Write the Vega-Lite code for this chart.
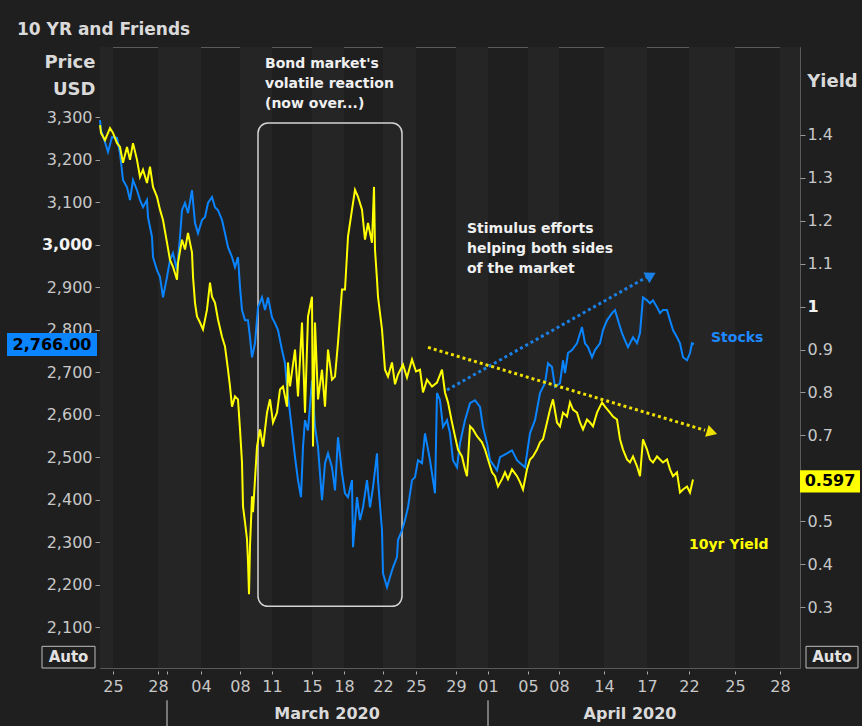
{
"$schema":"https://vega.github.io/schema/vega-lite/v6.json",
"width":700,"height":621,
"autosize":{"type":"none"},
"padding":{"left":100,"top":47,"right":62,"bottom":58},
"background":"#1f1f1f",
"title":{"text":"10 YR and Friends","anchor":"start","frame":"group","dx":-83,"offset":8,"fontSize":17,"fontWeight":"bold","color":"#dadada","font":"DejaVu Sans"},
"config":{"font":"DejaVu Sans","view":{"stroke":"#5a5a5a","fill":"#1f1f1f"},"axis":{"labelFont":"DejaVu Sans","titleFont":"DejaVu Sans"}},
"datasets":{
"bands":[{"start":0,"end":2.6},{"start":11.6,"end":20.2},{"start":28,"end":34.4},{"start":42.4,"end":48.8},{"start":56.6,"end":63.2},{"start":71.2,"end":77.6},{"start":85.6,"end":91.8},{"start":100.8,"end":109.4},{"start":117.8,"end":127},{"start":136,"end":140}],
"months":[{"t":13.4},{"t":77.6}],
"stocks":[{"t":0,"price":3293},{"t":0.2,"price":3269},{"t":1,"price":3241},{"t":1.6,"price":3218},{"t":2.4,"price":3253},{"t":3.4,"price":3251},{"t":4,"price":3215},{"t":4.6,"price":3152},{"t":5.4,"price":3135},{"t":6,"price":3105},{"t":6.6,"price":3152},{"t":7.4,"price":3128},{"t":8,"price":3105},{"t":8.6,"price":3088},{"t":9.4,"price":3105},{"t":9.6,"price":3065},{"t":10.4,"price":3018},{"t":10.6,"price":2971},{"t":11.4,"price":2940},{"t":12,"price":2924},{"t":12.6,"price":2876},{"t":13.4,"price":2924},{"t":14,"price":2964},{"t":14.6,"price":2980},{"t":15.4,"price":2940},{"t":16,"price":3018},{"t":16.4,"price":3081},{"t":17,"price":3098},{"t":17.6,"price":3074},{"t":18.4,"price":3128},{"t":19,"price":3051},{"t":19.6,"price":3027},{"t":20.4,"price":3058},{"t":21,"price":3065},{"t":21.6,"price":3098},{"t":22.4,"price":3112},{"t":23,"price":3088},{"t":23.6,"price":3081},{"t":24.4,"price":3058},{"t":25,"price":3027},{"t":25.6,"price":2994},{"t":26.4,"price":2971},{"t":27,"price":2947},{"t":27.6,"price":2971},{"t":28,"price":2900},{"t":28.4,"price":2846},{"t":29,"price":2822},{"t":29.6,"price":2822},{"t":30,"price":2782},{"t":30.4,"price":2735},{"t":31,"price":2768},{"t":31.6,"price":2853},{"t":32.4,"price":2876},{"t":33,"price":2846},{"t":33.6,"price":2876},{"t":34.4,"price":2829},{"t":35,"price":2815},{"t":35.6,"price":2799},{"t":36.4,"price":2752},{"t":37,"price":2721},{"t":37.4,"price":2665},{"t":38.4,"price":2563},{"t":39,"price":2500},{"t":39.6,"price":2446},{"t":40.2,"price":2406},{"t":40.6,"price":2524},{"t":41,"price":2587},{"t":41.6,"price":2563},{"t":42.4,"price":2681},{"t":43,"price":2571},{"t":43.6,"price":2524},{"t":44.4,"price":2399},{"t":45,"price":2486},{"t":45.6,"price":2509},{"t":46.4,"price":2476},{"t":47,"price":2422},{"t":47.6,"price":2547},{"t":48.4,"price":2462},{"t":49,"price":2415},{"t":49.6,"price":2406},{"t":50.4,"price":2446},{"t":50.6,"price":2288},{"t":51.4,"price":2406},{"t":52,"price":2352},{"t":52.6,"price":2382},{"t":53.4,"price":2446},{"t":54,"price":2382},{"t":54.6,"price":2429},{"t":55.4,"price":2509},{"t":55.6,"price":2446},{"t":56.4,"price":2328},{"t":56.6,"price":2227},{"t":57.4,"price":2194},{"t":58,"price":2218},{"t":58.6,"price":2241},{"t":59.4,"price":2265},{"t":59.6,"price":2305},{"t":60.4,"price":2328},{"t":61,"price":2352},{"t":61.6,"price":2382},{"t":62.4,"price":2446},{"t":63,"price":2453},{"t":63.6,"price":2493},{"t":64.4,"price":2486},{"t":65,"price":2556},{"t":66,"price":2493},{"t":67,"price":2415},{"t":67.4,"price":2651},{"t":68,"price":2634},{"t":68.6,"price":2571},{"t":69.4,"price":2587},{"t":70,"price":2556},{"t":70.6,"price":2493},{"t":71.4,"price":2476},{"t":72,"price":2533},{"t":73,"price":2587},{"t":74,"price":2627},{"t":75,"price":2634},{"t":76,"price":2618},{"t":76.6,"price":2571},{"t":77.4,"price":2533},{"t":78,"price":2493},{"t":79.4,"price":2469},{"t":80,"price":2500},{"t":81.4,"price":2509},{"t":82.4,"price":2516},{"t":83.4,"price":2493},{"t":84,"price":2486},{"t":85,"price":2476},{"t":86,"price":2556},{"t":87,"price":2587},{"t":88,"price":2651},{"t":89,"price":2674},{"t":89.6,"price":2721},{"t":90.4,"price":2712},{"t":91,"price":2665},{"t":92,"price":2674},{"t":92.6,"price":2728},{"t":93,"price":2698},{"t":93.6,"price":2745},{"t":94.4,"price":2752},{"t":95.4,"price":2768},{"t":96.4,"price":2806},{"t":97,"price":2768},{"t":97.6,"price":2759},{"t":98.4,"price":2735},{"t":99,"price":2752},{"t":100,"price":2768},{"t":100.6,"price":2799},{"t":101.4,"price":2822},{"t":102.4,"price":2839},{"t":103,"price":2846},{"t":103.6,"price":2822},{"t":104.4,"price":2792},{"t":105,"price":2775},{"t":105.6,"price":2759},{"t":106.6,"price":2782},{"t":107.4,"price":2768},{"t":108,"price":2792},{"t":108.6,"price":2876},{"t":109.4,"price":2869},{"t":110,"price":2862},{"t":110.6,"price":2869},{"t":111.4,"price":2853},{"t":112,"price":2839},{"t":112.6,"price":2846},{"t":113.4,"price":2846},{"t":114,"price":2822},{"t":114.6,"price":2799},{"t":115.4,"price":2782},{"t":116,"price":2768},{"t":116.6,"price":2735},{"t":117.4,"price":2728},{"t":118,"price":2745},{"t":118.4,"price":2768},{"t":118.8,"price":2766}],
"yield":[{"t":0,"yield":1.423},{"t":0.2,"yield":1.405},{"t":1,"yield":1.388},{"t":2,"yield":1.416},{"t":2.6,"yield":1.405},{"t":3.4,"yield":1.381},{"t":4,"yield":1.372},{"t":4.6,"yield":1.335},{"t":5.4,"yield":1.372},{"t":6,"yield":1.342},{"t":6.6,"yield":1.381},{"t":7.4,"yield":1.342},{"t":8,"yield":1.302},{"t":8.6,"yield":1.319},{"t":9.4,"yield":1.288},{"t":10,"yield":1.326},{"t":10.6,"yield":1.279},{"t":11.4,"yield":1.256},{"t":12,"yield":1.226},{"t":12.6,"yield":1.202},{"t":13.4,"yield":1.149},{"t":14,"yield":1.109},{"t":14.6,"yield":1.093},{"t":15.4,"yield":1.063},{"t":15.6,"yield":1.102},{"t":16.4,"yield":1.156},{"t":17,"yield":1.133},{"t":17.6,"yield":1.172},{"t":18.4,"yield":1.126},{"t":18.6,"yield":1.07},{"t":19,"yield":1.009},{"t":19.4,"yield":0.977},{"t":20,"yield":0.963},{"t":20.6,"yield":0.947},{"t":21.4,"yield":0.993},{"t":22,"yield":1.056},{"t":22.4,"yield":1.023},{"t":23,"yield":1.009},{"t":23.6,"yield":0.97},{"t":24.4,"yield":0.93},{"t":25,"yield":0.907},{"t":25.6,"yield":0.853},{"t":26,"yield":0.814},{"t":26.4,"yield":0.767},{"t":27,"yield":0.791},{"t":27.6,"yield":0.784},{"t":28,"yield":0.714},{"t":28.4,"yield":0.637},{"t":28.6,"yield":0.535},{"t":29,"yield":0.498},{"t":29.4,"yield":0.458},{"t":29.6,"yield":0.405},{"t":29.8,"yield":0.33},{"t":30,"yield":0.442},{"t":30.4,"yield":0.558},{"t":30.6,"yield":0.521},{"t":31.4,"yield":0.674},{"t":32,"yield":0.714},{"t":32.6,"yield":0.674},{"t":33.4,"yield":0.753},{"t":34,"yield":0.784},{"t":34.6,"yield":0.73},{"t":35.4,"yield":0.753},{"t":36,"yield":0.807},{"t":36.6,"yield":0.814},{"t":37.4,"yield":0.767},{"t":37.6,"yield":0.87},{"t":38,"yield":0.814},{"t":39,"yield":0.9},{"t":39.6,"yield":0.791},{"t":40.4,"yield":0.963},{"t":41,"yield":0.753},{"t":41.6,"yield":0.977},{"t":42.4,"yield":1.023},{"t":42.6,"yield":0.674},{"t":43,"yield":0.963},{"t":43.6,"yield":0.784},{"t":44.4,"yield":0.853},{"t":45,"yield":0.767},{"t":45.6,"yield":0.9},{"t":46.4,"yield":0.83},{"t":47,"yield":0.837},{"t":47.6,"yield":0.916},{"t":48.4,"yield":1.04},{"t":49,"yield":1.04},{"t":49.6,"yield":1.163},{"t":50.4,"yield":1.226},{"t":51,"yield":1.272},{"t":51.6,"yield":1.256},{"t":52.4,"yield":1.226},{"t":53,"yield":1.156},{"t":53.6,"yield":1.195},{"t":54.4,"yield":1.149},{"t":54.8,"yield":1.279},{"t":55,"yield":1.133},{"t":55.4,"yield":1.063},{"t":55.6,"yield":1.023},{"t":56.4,"yield":0.947},{"t":57,"yield":0.853},{"t":57.6,"yield":0.837},{"t":58.4,"yield":0.87},{"t":59,"yield":0.819},{"t":59.6,"yield":0.842},{"t":60.6,"yield":0.865},{"t":61.4,"yield":0.835},{"t":62.4,"yield":0.877},{"t":63.2,"yield":0.849},{"t":64,"yield":0.853},{"t":64.6,"yield":0.8},{"t":65.4,"yield":0.83},{"t":66.4,"yield":0.814},{"t":67.4,"yield":0.823},{"t":68.4,"yield":0.853},{"t":69,"yield":0.8},{"t":69.6,"yield":0.777},{"t":70.4,"yield":0.73},{"t":71,"yield":0.698},{"t":71.6,"yield":0.667},{"t":72.4,"yield":0.651},{"t":73,"yield":0.621},{"t":73.4,"yield":0.605},{"t":74,"yield":0.721},{"t":74.6,"yield":0.714},{"t":75.4,"yield":0.698},{"t":76.4,"yield":0.684},{"t":77,"yield":0.667},{"t":77.6,"yield":0.644},{"t":78.4,"yield":0.614},{"t":79,"yield":0.605},{"t":79.6,"yield":0.581},{"t":80.4,"yield":0.598},{"t":81,"yield":0.614},{"t":81.6,"yield":0.598},{"t":82.4,"yield":0.621},{"t":83.4,"yield":0.605},{"t":84,"yield":0.591},{"t":84.6,"yield":0.574},{"t":85.4,"yield":0.621},{"t":86,"yield":0.644},{"t":86.6,"yield":0.651},{"t":87.4,"yield":0.667},{"t":88,"yield":0.684},{"t":88.6,"yield":0.691},{"t":89.4,"yield":0.73},{"t":90,"yield":0.76},{"t":90.6,"yield":0.784},{"t":91.4,"yield":0.73},{"t":92,"yield":0.721},{"t":92.6,"yield":0.753},{"t":93.4,"yield":0.744},{"t":94,"yield":0.777},{"t":94.6,"yield":0.76},{"t":95.4,"yield":0.753},{"t":96,"yield":0.73},{"t":96.6,"yield":0.714},{"t":97.4,"yield":0.737},{"t":98,"yield":0.73},{"t":98.6,"yield":0.721},{"t":99.4,"yield":0.753},{"t":100.4,"yield":0.777},{"t":101,"yield":0.767},{"t":102,"yield":0.753},{"t":102.6,"yield":0.744},{"t":103.4,"yield":0.737},{"t":104,"yield":0.691},{"t":104.6,"yield":0.667},{"t":105.4,"yield":0.644},{"t":106,"yield":0.637},{"t":106.6,"yield":0.651},{"t":107.4,"yield":0.628},{"t":108,"yield":0.605},{"t":108.6,"yield":0.691},{"t":109.4,"yield":0.667},{"t":110,"yield":0.644},{"t":110.6,"yield":0.637},{"t":111.4,"yield":0.651},{"t":112,"yield":0.644},{"t":112.6,"yield":0.637},{"t":113.4,"yield":0.644},{"t":114,"yield":0.621},{"t":114.6,"yield":0.605},{"t":115.4,"yield":0.614},{"t":116,"yield":0.567},{"t":116.6,"yield":0.574},{"t":117.4,"yield":0.581},{"t":118,"yield":0.567},{"t":118.6,"yield":0.597}]
},
"resolve":{"scale":{"y":"independent"},"axis":{"x":"independent"}},
"layer":[
{"data":{"name":"bands"},"mark":{"type":"rect","color":"#252525"},
 "encoding":{"x":{"field":"start","type":"quantitative","scale":{"domain":[0,140],"nice":false,"zero":false},"axis":null},"x2":{"field":"end"}}},
{"data":{"values":[{}]},"mark":{"type":"rect","filled":false,"stroke":"#d4d4d4","strokeWidth":1.5,"cornerRadius":10},
 "encoding":{"x":{"datum":31.6,"type":"quantitative","scale":{"domain":[0,140],"nice":false,"zero":false},"axis":null},"x2":{"datum":60.4},
 "y":{"datum":3286,"type":"quantitative","scale":{"domain":[2004,3465],"nice":false,"zero":false},"axis":null},"y2":{"datum":2149}}},
{"data":{"name":"stocks"},"mark":{"type":"line","color":"#0a84ff","strokeWidth":2},
 "encoding":{
  "x":{"field":"t","type":"quantitative","scale":{"domain":[0,140],"nice":false,"zero":false},
   "axis":{"orient":"bottom","values":[2.6,11.6,13.4,20.2,28,34.4,42.4,48.8,56.6,63.2,71.2,77.6,85.6,91.8,100.8,109.4,117.8,127,136],
   "labelExpr":"datum.value == 2.6 ? '25' : datum.value == 11.6 ? '28' : datum.value == 20.2 ? '04' : datum.value == 28 ? '08' : datum.value == 34.4 ? '11' : datum.value == 42.4 ? '15' : datum.value == 48.8 ? '18' : datum.value == 56.6 ? '22' : datum.value == 63.2 ? '25' : datum.value == 71.2 ? '29' : datum.value == 77.6 ? '01' : datum.value == 85.6 ? '05' : datum.value == 91.8 ? '08' : datum.value == 100.8 ? '14' : datum.value == 109.4 ? '17' : datum.value == 117.8 ? '22' : datum.value == 127 ? '25' : datum.value == 136 ? '28' : ''",
   "offset":3,"tickSize":3,"tickColor":"#aaaaaa","labelPadding":4,"domain":false,"grid":false,"title":null,"labelFontSize":16,"labelColor":"#c8c8c8","labelFlush":false,"labelOverlap":false}},
  "y":{"field":"price","type":"quantitative","scale":{"domain":[2004,3465],"nice":false,"zero":false},
   "axis":{"orient":"left","values":[2100,2200,2300,2400,2500,2600,2700,2800,2900,3000,3100,3200,3300],
   "labelExpr":"format(datum.value, ',.0f')",
   "labelFontSize":16,"labelColor":{"condition":{"test":"datum.value == 3000","value":"#f2f2f2"},"value":"#c8c8c8"},
   "labelFontWeight":{"condition":{"test":"datum.value == 3000","value":"bold"},"value":"normal"},
   "tickSize":5,"tickColor":"#9a9a9a","labelPadding":3,"domain":false,"grid":false,"labelOverlap":false,
   "title":["Price","USD"],"titleAngle":0,"titleAlign":"right","titleBaseline":"alphabetic","titleX":-5,"titleY":20,"titleLineHeight":27,"titleFontSize":18,"titleFontWeight":"bold","titleColor":"#d9d9d9"}}}},
{"data":{"values":[{}]},"mark":{"type":"rule","color":"#1a80e6","strokeWidth":3,"strokeDash":[3,3]},
 "encoding":{"x":{"datum":69.4,"type":"quantitative","scale":{"domain":[0,140],"nice":false,"zero":false},"axis":null},"x2":{"datum":109.4},
 "y":{"datum":2658,"type":"quantitative","scale":{"domain":[2004,3465],"nice":false,"zero":false},"axis":null},"y2":{"datum":2924}}},
{"data":{"values":[{}]},"mark":{"type":"point","shape":"triangle-right","filled":true,"color":"#1a80e6","size":150,"opacity":1,"angle":330.6},
 "encoding":{"x":{"datum":110.2,"type":"quantitative","scale":{"domain":[0,140],"nice":false,"zero":false},"axis":null},
 "y":{"datum":2928,"type":"quantitative","scale":{"domain":[2004,3465],"nice":false,"zero":false},"axis":null}}},
{"data":{"values":[{}]},"mark":{"type":"text","text":["Bond market's","volatile reaction","(now over...)"],"align":"left","baseline":"top","lineHeight":20,"fontSize":14,"fontWeight":"bold","color":"#f0f0f0"},
 "encoding":{"x":{"datum":33,"type":"quantitative","scale":{"domain":[0,140],"nice":false,"zero":false},"axis":null},
 "y":{"datum":3441,"type":"quantitative","scale":{"domain":[2004,3465],"nice":false,"zero":false},"axis":null}}},
{"data":{"values":[{}]},"mark":{"type":"text","text":["Stimulus efforts","helping both sides","of the market"],"align":"left","baseline":"top","lineHeight":20,"fontSize":14,"fontWeight":"bold","color":"#f0f0f0"},
 "encoding":{"x":{"datum":73.4,"type":"quantitative","scale":{"domain":[0,140],"nice":false,"zero":false},"axis":null},
 "y":{"datum":3053,"type":"quantitative","scale":{"domain":[2004,3465],"nice":false,"zero":false},"axis":null}}},
{"data":{"values":[{}]},"mark":{"type":"text","text":"Stocks","align":"left","baseline":"middle","fontSize":14,"fontWeight":"bold","color":"#1e88ff"},
 "encoding":{"x":{"datum":122.2,"type":"quantitative","scale":{"domain":[0,140],"nice":false,"zero":false},"axis":null},
 "y":{"datum":2780,"type":"quantitative","scale":{"domain":[2004,3465],"nice":false,"zero":false},"axis":null}}},
{"data":{"values":[{}]},"mark":{"type":"rect","color":"#0a84ff"},
 "encoding":{"x":{"datum":-18.6,"type":"quantitative","scale":{"domain":[0,140],"nice":false,"zero":false},"axis":null},"x2":{"datum":-0.6},
 "y":{"datum":2792,"type":"quantitative","scale":{"domain":[2004,3465],"nice":false,"zero":false},"axis":null},"y2":{"datum":2738}}},
{"data":{"values":[{}]},"mark":{"type":"text","text":"2,766.00","align":"center","baseline":"middle","fontSize":16,"fontWeight":"bold","color":"#000000"},
 "encoding":{"x":{"datum":-9.6,"type":"quantitative","scale":{"domain":[0,140],"nice":false,"zero":false},"axis":null},
 "y":{"datum":2765,"type":"quantitative","scale":{"domain":[2004,3465],"nice":false,"zero":false},"axis":null}}},
{"data":{"values":[{"a":-11.6,"b":-1,"c":-6.3},{"a":141.2,"b":151.6,"c":146.4}]},"mark":{"type":"rect","fill":"#1f1f1f","stroke":"#bdbdbd","strokeWidth":1},
 "encoding":{"x":{"field":"a","type":"quantitative","scale":{"domain":[0,140],"nice":false,"zero":false},"axis":null},"x2":{"field":"b"},
 "y":{"datum":2055,"type":"quantitative","scale":{"domain":[2004,3465],"nice":false,"zero":false},"axis":null},"y2":{"datum":2004}}},
{"data":{"values":[{"a":-11.6,"b":-1,"c":-6.3},{"a":141.2,"b":151.6,"c":146.4}]},"mark":{"type":"text","text":"Auto","align":"center","baseline":"middle","fontSize":15,"fontWeight":"bold","color":"#e2e2e2"},
 "encoding":{"x":{"field":"c","type":"quantitative","scale":{"domain":[0,140],"nice":false,"zero":false},"axis":null},
 "y":{"datum":2030,"type":"quantitative","scale":{"domain":[2004,3465],"nice":false,"zero":false},"axis":null}}},
{"data":{"name":"months"},"mark":{"type":"rule","color":"#d0d0d0","strokeWidth":1},
 "encoding":{"x":{"field":"t","type":"quantitative","scale":{"domain":[0,140],"nice":false,"zero":false},"axis":null},
 "y":{"datum":1928,"type":"quantitative","scale":{"domain":[2004,3465],"nice":false,"zero":false},"axis":null},"y2":{"datum":1867}}},
{"data":{"values":[{"t":45.4,"label":"March 2020"},{"t":106,"label":"April 2020"}]},"mark":{"type":"text","align":"center","baseline":"middle","fontSize":16,"fontWeight":"bold","color":"#dadada"},
 "encoding":{"x":{"field":"t","type":"quantitative","scale":{"domain":[0,140],"nice":false,"zero":false},"axis":null},
 "y":{"datum":1895,"type":"quantitative","scale":{"domain":[2004,3465],"nice":false,"zero":false},"axis":null},"text":{"field":"label"}}},
{"data":{"name":"yield"},"mark":{"type":"line","color":"#ffff00","strokeWidth":2},
 "encoding":{
  "x":{"field":"t","type":"quantitative","scale":{"domain":[0,140],"nice":false,"zero":false},"axis":null},
  "y":{"field":"yield","type":"quantitative","scale":{"domain":[0.158,1.605],"nice":false,"zero":false},
   "axis":{"orient":"right","values":[0.3,0.4,0.5,0.7,0.8,0.9,1,1.1,1.2,1.3,1.4],
   "labelExpr":"datum.value == 1 ? '1' : format(datum.value, '.1f')",
   "labelFontSize":16,"labelColor":{"condition":{"test":"datum.value == 1","value":"#f2f2f2"},"value":"#c8c8c8"},
   "labelFontWeight":{"condition":{"test":"datum.value == 1","value":"bold"},"value":"normal"},
   "tickSize":5,"tickColor":"#9a9a9a","labelPadding":2,"domain":false,"grid":false,"labelOverlap":false,
   "title":"Yield","titleAngle":0,"titleAlign":"center","titleBaseline":"alphabetic","titleX":32,"titleY":39,"titleFontSize":18,"titleFontWeight":"bold","titleColor":"#d9d9d9"}}}},
{"data":{"values":[{}]},"mark":{"type":"rule","color":"#f0e000","strokeWidth":3,"strokeDash":[3,3]},
 "encoding":{"x":{"datum":65.6,"type":"quantitative","scale":{"domain":[0,140],"nice":false,"zero":false},"axis":null},"x2":{"datum":121},
 "y":{"datum":0.905,"type":"quantitative","scale":{"domain":[0.158,1.605],"nice":false,"zero":false},"axis":null},"y2":{"datum":0.712}}},
{"data":{"values":[{}]},"mark":{"type":"point","shape":"triangle-right","filled":true,"color":"#f0e000","size":150,"opacity":1,"angle":16.5},
 "encoding":{"x":{"datum":122.4,"type":"quantitative","scale":{"domain":[0,140],"nice":false,"zero":false},"axis":null},
 "y":{"datum":0.707,"type":"quantitative","scale":{"domain":[0.158,1.605],"nice":false,"zero":false},"axis":null}}},
{"data":{"values":[{}]},"mark":{"type":"text","text":"10yr Yield","align":"left","baseline":"middle","fontSize":14,"fontWeight":"bold","color":"#ffff00"},
 "encoding":{"x":{"datum":117.8,"type":"quantitative","scale":{"domain":[0,140],"nice":false,"zero":false},"axis":null},
 "y":{"datum":0.444,"type":"quantitative","scale":{"domain":[0.158,1.605],"nice":false,"zero":false},"axis":null}}},
{"data":{"values":[{}]},"mark":{"type":"rect","color":"#ffff00"},
 "encoding":{"x":{"datum":140,"type":"quantitative","scale":{"domain":[0,140],"nice":false,"zero":false},"axis":null},"x2":{"datum":152},
 "y":{"datum":0.619,"type":"quantitative","scale":{"domain":[0.158,1.605],"nice":false,"zero":false},"axis":null},"y2":{"datum":0.567}}},
{"data":{"values":[{}]},"mark":{"type":"text","text":"0.597","align":"center","baseline":"middle","fontSize":16,"fontWeight":"bold","color":"#000000"},
 "encoding":{"x":{"datum":146,"type":"quantitative","scale":{"domain":[0,140],"nice":false,"zero":false},"axis":null},
 "y":{"datum":0.593,"type":"quantitative","scale":{"domain":[0.158,1.605],"nice":false,"zero":false},"axis":null}}}
]
}
